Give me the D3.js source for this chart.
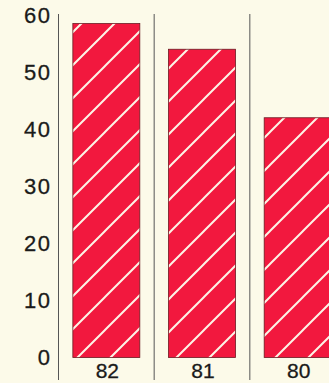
<!DOCTYPE html>
<html>
<head>
<meta charset="utf-8">
<script src="https://cdn.jsdelivr.net/npm/d3@7"></script>
<style>
html,body{margin:0;padding:0;background:#fcfae9;}
svg{display:block;}
</style>
</head>
<body>
<svg id="chart" width="329" height="383"></svg>
<script>
const categories = ["82", "81", "80"];
const values = [58.5, 54, 42];
const yTicks = [0, 10, 20, 30, 40, 50, 60];

const svg = d3.select("#chart");
const W = 329, H = 383;
svg.append("rect").attr("width", W).attr("height", H).attr("fill", "#fcfae9");

const x = d3.scaleBand().domain(categories).range([58.5, 345.5]).paddingInner(0.3).paddingOuter(0.15);
const y = d3.scaleLinear().domain([0, 60]).range([357.5, 15]);

const defs = svg.append("defs");
const pat = defs.append("pattern")
  .attr("id", "hatch").attr("patternUnits", "userSpaceOnUse")
  .attr("width", 33).attr("height", 33).attr("x", 6).attr("y", 0);
pat.append("rect").attr("width", 33).attr("height", 33).attr("fill", "#f2183e");
pat.append("path")
  .attr("d", "M-4,37 L37,-4 M-12,12 L12,-12 M21,45 L45,21")
  .attr("stroke", "#fdf3e6").attr("stroke-width", 2);

// divider lines at band boundaries
const step = x.step();
const boundaries = categories.map((c, i) => x.range()[0] + i * step);
svg.selectAll("line.div").data(boundaries).join("line")
  .attr("class", "div")
  .attr("x1", d => d).attr("x2", d => d)
  .attr("y1", 14).attr("y2", 380)
  .attr("stroke", "#555").attr("stroke-width", 1);

svg.selectAll("rect.bar").data(values).join("rect")
  .attr("class", "bar")
  .attr("x", (d, i) => x(categories[i]))
  .attr("y", d => y(d))
  .attr("width", x.bandwidth())
  .attr("height", d => y(0) - y(d))
  .attr("fill", "url(#hatch)")
  .attr("stroke", "#6a1a22").attr("stroke-width", 0.8);

// y tick labels
svg.selectAll("text.yt").data(yTicks).join("text")
  .attr("class", "yt")
  .attr("x", 51.5).attr("y", d => y(d))
  .attr("dy", "0.36em")
  .attr("text-anchor", "end")
  .attr("font-family", "Liberation Sans, Arial, sans-serif")
  .attr("font-size", 22)
  .attr("letter-spacing", 1.5)
  .attr("fill", "#1a1a1a")
  .attr("stroke", "#1a1a1a").attr("stroke-width", 0.3)
  .text(d => d);

// category labels
svg.selectAll("text.xt").data(categories).join("text")
  .attr("class", "xt")
  .attr("x", d => x(d) + x.bandwidth() / 2 + 1)
  .attr("y", 378)
  .attr("text-anchor", "middle")
  .attr("font-family", "Liberation Sans, Arial, sans-serif")
  .attr("font-size", 21)
  .attr("fill", "#1a1a1a")
  .attr("stroke", "#1a1a1a").attr("stroke-width", 0.3)
  .text(d => d);
</script>
</body>
</html>
